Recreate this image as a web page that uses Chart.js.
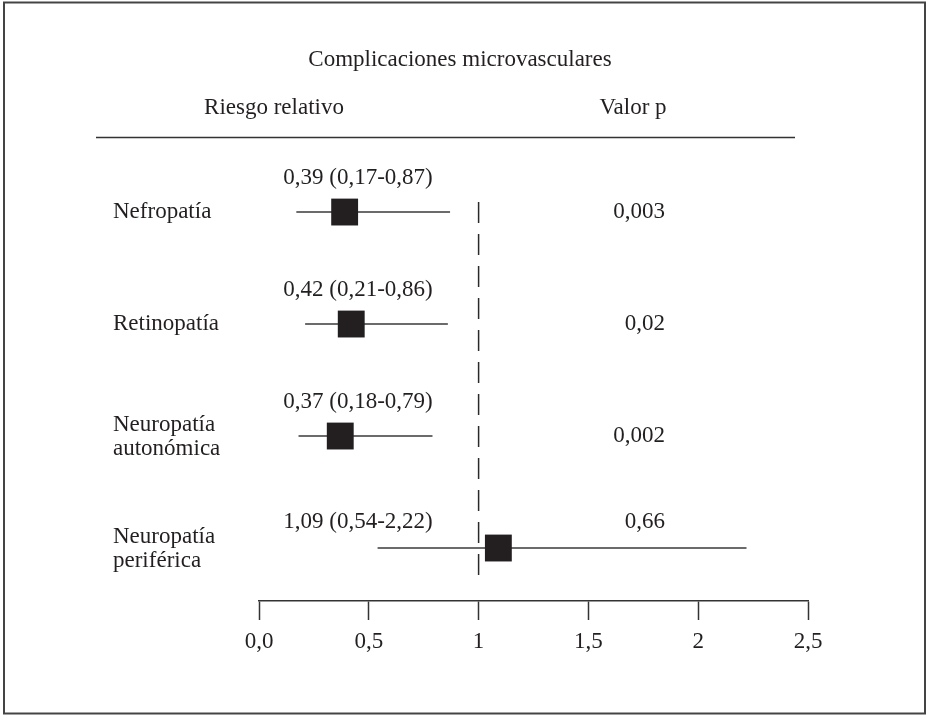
<!DOCTYPE html>
<html lang="es">
<head>
  <meta charset="UTF-8">
  <title>Complicaciones microvasculares</title>
  <script src="https://cdn.jsdelivr.net/npm/chart.js"></script>
  <style>
    body { margin: 0; background: white; }
    #wrap { width: 926px; height: 715px; position: relative; }
  </style>
</head>
<body>
  <div id="wrap"><canvas id="chart"></canvas></div>

  <script>
    // data
    const categories = [["Nefropatía"], ["Retinopatía"], ["Neuropatía", "autonómica"], ["Neuropatía", "periférica"]];
    const rr = [0.39, 0.42, 0.37, 1.09];
    const ciLow = [0.17, 0.21, 0.18, 0.54];
    const ciHigh = [0.87, 0.86, 0.79, 2.22];
    const pValues = ["0,003", "0,02", "0,002", "0,66"];
    const tickLabels = ["0,0", "0,5", "1", "1,5", "2", "2,5"];
    const refValue = 1;

    const font = "'Liberation Serif', 'DejaVu Serif', serif";
    const ink = "#231f20";

    const fmt = v => v.toFixed(2).replace(".", ",");

    const datasets = [];
    // CI whiskers
    categories.forEach((c, i) => {
      datasets.push({
        type: "line",
        data: [{ x: ciLow[i], y: i }, { x: ciHigh[i], y: i }],
        borderColor: "#3a3a3a",
        borderWidth: 1.6,
        pointRadius: 0,
        order: 2
      });
    });
    // reference line at RR = 1
    datasets.push({
      type: "line",
      data: [{ x: refValue, y: -0.09 }, { x: refValue, y: 3.24 }],
      borderColor: "#2a2a2a",
      borderWidth: 1.5,
      borderDash: [21, 11],
      pointRadius: 0,
      order: 3
    });
    // point estimates
    datasets.push({
      type: "scatter",
      data: rr.map((v, i) => ({ x: v, y: i })),
      pointStyle: "rect",
      pointRadius: 19,
      pointHoverRadius: 19,
      backgroundColor: ink,
      borderColor: ink,
      borderWidth: 0,
      order: 0
    });

    const textPlugin = {
      id: "forestText",
      afterDraw(chart) {
        const ctx = chart.ctx;
        const ys = chart.scales.y;
        ctx.save();
        // frame
        ctx.strokeStyle = "#444";
        ctx.lineWidth = 2;
        ctx.strokeRect(4, 2.5, 921, 711);

        ctx.fillStyle = ink;
        ctx.font = "23px " + font;
        ctx.textBaseline = "middle";
        ctx.textAlign = "center";
        ctx.fillText("Complicaciones microvasculares", 460, 60);
        ctx.fillText("Riesgo relativo", 274, 108);
        ctx.fillText("Valor p", 633, 108);

        // header rule
        ctx.strokeStyle = "#333";
        ctx.lineWidth = 1.5;
        ctx.beginPath();
        ctx.moveTo(96, 137.5);
        ctx.lineTo(795, 137.5);
        ctx.stroke();

        categories.forEach((lines, i) => {
          const y = ys.getPixelForValue(i);
          ctx.textAlign = "left";
          if (lines.length === 1) {
            ctx.fillText(lines[0], 113, y);
          } else {
            ctx.fillText(lines[0], 113, y - 11);
            ctx.fillText(lines[1], 113, y + 13);
          }
          ctx.textAlign = "center";
          const off = i === categories.length - 1 ? 26 : 34;
          ctx.fillText(fmt(rr[i]) + " (" + fmt(ciLow[i]) + "-" + fmt(ciHigh[i]) + ")", 358, y - off);
          ctx.textAlign = "right";
          ctx.fillText(pValues[i], 665, i === categories.length - 1 ? y - off : y);
        });
        ctx.restore();
      }
    };

    new Chart(document.getElementById("chart"), {
      data: { datasets },
      options: {
        responsive: true,
        maintainAspectRatio: false,
        animation: false,
        layout: { padding: { left: 259, right: 118, top: 150, bottom: 0 } },
        plugins: { legend: { display: false }, tooltip: { enabled: false } },
        scales: {
          x: {
            type: "linear",
            min: 0,
            max: 2.5,
            afterFit: s => { s.height = 114; },
            afterBuildTicks: s => { s.ticks = tickLabels.map((_, i) => ({ value: i * 0.5 })); },
            border: { display: true, color: "#333", width: 1.5 },
            grid: { drawOnChartArea: false, drawTicks: true, tickLength: 19, tickColor: "#333", tickWidth: 1.5 },
            ticks: {
              padding: 8,
              color: ink,
              font: { family: font, size: 23 },
              maxRotation: 0,
              callback: (v, i) => tickLabels[i]
            }
          },
          y: {
            type: "linear",
            display: false,
            reverse: true,
            min: -0.554,
            max: 3.473
          }
        }
      },
      plugins: [textPlugin]
    });
  </script>
</body>
</html>
